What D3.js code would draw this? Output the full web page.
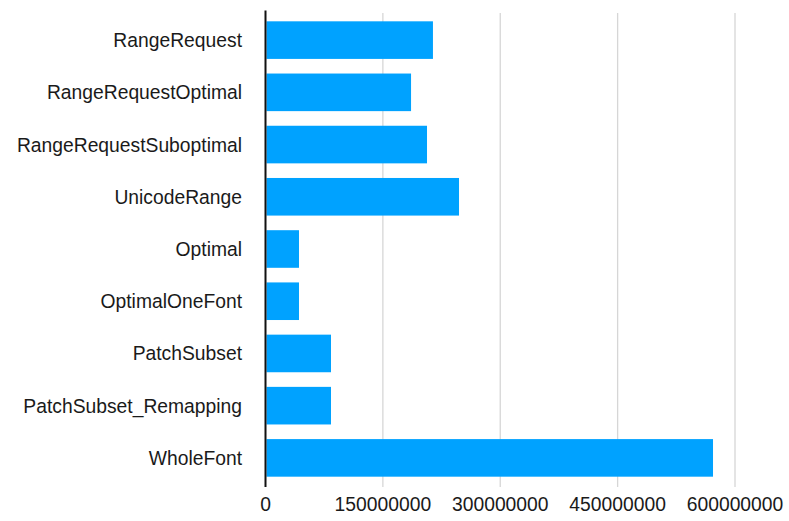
<!DOCTYPE html>
<html>
<head>
<meta charset="utf-8">
<script src="https://cdn.jsdelivr.net/npm/d3@7"></script>
<style>
  html, body { margin: 0; padding: 0; background: #fff; }
  svg { display: block; font-family: "Liberation Sans", Arial, Helvetica, sans-serif; }
</style>
</head>
<body>
<svg id="chart" width="789" height="521"></svg>
<script>
const categories = [
  "RangeRequest",
  "RangeRequestOptimal",
  "RangeRequestSuboptimal",
  "UnicodeRange",
  "Optimal",
  "OptimalOneFont",
  "PatchSubset",
  "PatchSubset_Remapping",
  "WholeFont"
];
const values = [
  214000000,
  186000000,
  206400000,
  247300000,
  42800000,
  42800000,
  83700000,
  83700000,
  571900000
];
const xTicks = [0, 150000000, 300000000, 450000000, 600000000];

const svg = d3.select("#chart");
const x = d3.scaleLinear().domain([0, 600000000]).range([265.5, 735]);
const y = d3.scaleBand().domain(categories).range([14, 484]).paddingInner(0.28).paddingOuter(0.14);

// gridlines
svg.append("g")
  .selectAll("line")
  .data(xTicks.slice(1))
  .join("line")
  .attr("x1", d => x(d)).attr("x2", d => x(d))
  .attr("y1", 13).attr("y2", 487)
  .attr("stroke", "#d6d6d6")
  .attr("stroke-width", 1.3);

// bars
svg.append("g")
  .selectAll("rect")
  .data(categories)
  .join("rect")
  .attr("x", x(0) + 1)
  .attr("y", d => y(d))
  .attr("width", (d, i) => x(values[i]) - x(0) - 1)
  .attr("height", y.bandwidth())
  .attr("fill", "#00a2ff");

// y axis line
svg.append("line")
  .attr("x1", x(0)).attr("x2", x(0))
  .attr("y1", 10.5).attr("y2", 487)
  .attr("stroke", "#111")
  .attr("stroke-width", 2);

// category labels
svg.append("g")
  .selectAll("text")
  .data(categories)
  .join("text")
  .attr("x", 242)
  .attr("y", d => y(d) + y.bandwidth() / 2)
  .attr("dy", "0.36em")
  .attr("text-anchor", "end")
  .attr("font-size", 19.3)
  .attr("fill", "#1a1a1a")
  .text(d => d);

// x tick labels
svg.append("g")
  .selectAll("text")
  .data(xTicks)
  .join("text")
  .attr("x", d => x(d))
  .attr("y", 511)
  .attr("text-anchor", "middle")
  .attr("font-size", 19.3)
  .attr("fill", "#1a1a1a")
  .text(d => d3.format("d")(d));
</script>
</body>
</html>
